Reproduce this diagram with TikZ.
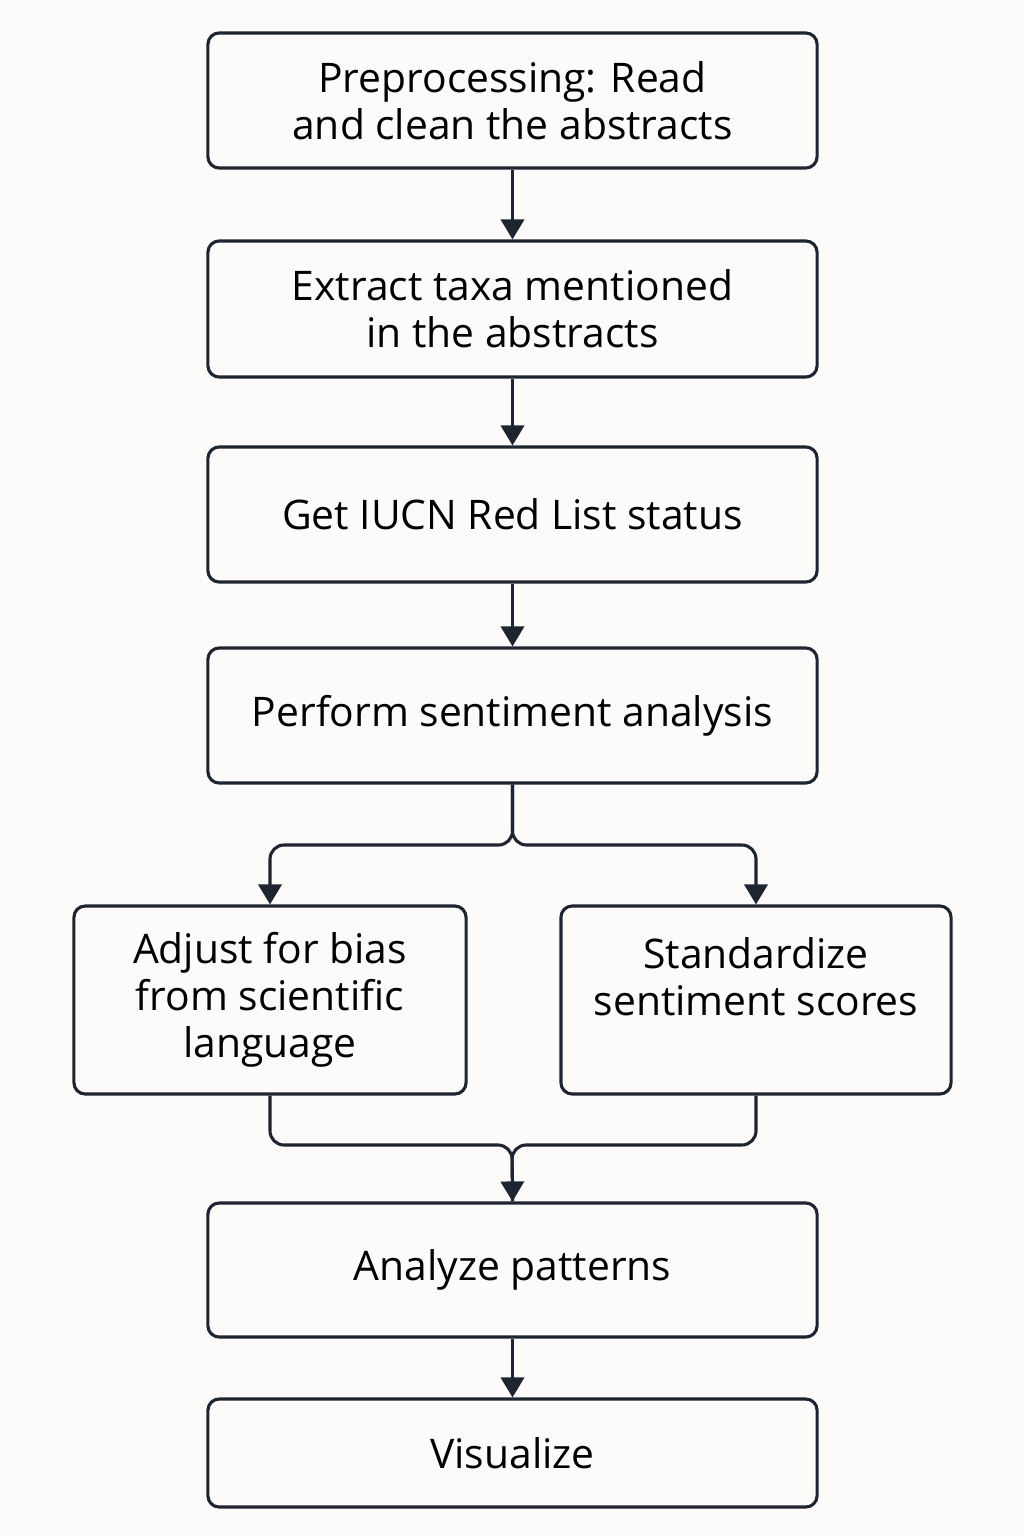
\documentclass[tikz,border=0pt]{standalone}
\usepackage{fontspec}
\setmainfont{Open Sans}
\usetikzlibrary{arrows.meta,positioning,calc}
\definecolor{ink}{HTML}{1E2430}
\definecolor{paper}{HTML}{FCFBF9}

\begin{document}
\begin{tikzpicture}[x=0.025cm,y=-0.025cm,>={Triangle[length=0.5cm,width=0.58cm]},
 font=\fontsize{29}{33.5}\selectfont,
 rec/.style={draw=ink,line width=2.2pt,rounded corners=8pt,fill=paper,minimum width=15.225cm,minimum height=3.375cm,align=center,inner sep=0pt},
 link/.style={draw=ink,line width=2.2pt,rounded corners=10pt}]
\fill[paper] (0,0) rectangle (1024,1536);
\node[rec] (pre) at (512.5,100.5) {Preprocessing: Read\\and clean the abstracts};
\node[rec,minimum height=3.4cm] (taxa) at (512.5,309) {Extract taxa mentioned\\in the abstracts};
\node[rec] (iucn) at (512.5,514.5) {Get IUCN Red List status};
\node[rec] (sent) at (512.5,715.5) {Perform sentiment analysis};
\node[rec,minimum width=9.8cm,minimum height=4.7cm] (bias) at (270,1000) {Adjust for bias\\from scientific\\language};
\node[rec,minimum width=9.75cm,minimum height=4.7cm] (stdz) at (756,1000) {Standardize\\sentiment scores\\\mbox{}};
\node[rec,minimum height=3.35cm] (patt) at (512.5,1270) {Analyze patterns};
\node[rec,minimum height=2.7cm] (viz) at (512.5,1453) {Visualize};
\coordinate (split) at (512,845);
\coordinate (merge) at (512,1145);
% straight steps
\draw[link,->] (pre) -- (taxa);
\draw[link,->] (taxa) -- (iucn);
\draw[link,->] (iucn) -- (sent);
\draw[link,->] (patt) -- (viz);
% fork and join
\draw[link,->] (sent.south) |- (bias.north |- split) -- (bias.north);
\draw[link,->] (sent.south) |- (stdz.north |- split) -- (stdz.north);
\draw[link,->] (bias.south) |- (merge) -- (patt.north);
\draw[link] (stdz.south) |- (merge) -- (patt.north);
\end{tikzpicture}
\end{document}
